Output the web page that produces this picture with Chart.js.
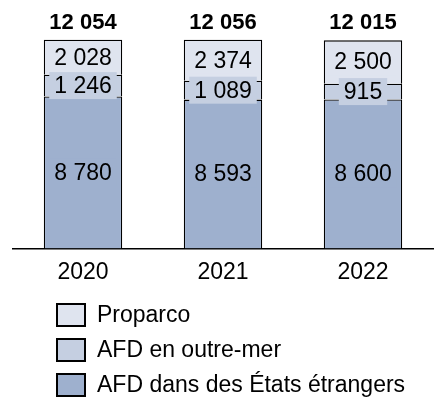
<!DOCTYPE html>
<html>
<head>
<meta charset="utf-8">
<script src="https://cdn.jsdelivr.net/npm/chart.js@4/dist/chart.umd.min.js"></script>
<style>
  html, body { margin: 0; padding: 0; background: #ffffff; }
  #wrap { width: 445px; height: 415px; position: relative; }
</style>
</head>
<body>
<div id="wrap"><canvas id="chart" width="445" height="415"></canvas></div>
<script>
const years = ['2020', '2021', '2022'];
const etrangers = [8780, 8593, 8600];
const outreMer = [1246, 1089, 915];
const proparco = [2028, 2374, 2500];
const totals = [12054, 12056, 12015];

const fontName = '"Liberation Sans", Arial, sans-serif';

function formatFr(value){
  return String(value).replace(/\B(?=(\d{3})+(?!\d))/g, ' ');
}

// segment labels with a small box behind, then the bold totals
const labelPlugin = {
  id: 'segmentLabels',
  afterDatasetsDraw: (chart) => {
    const {ctx} = chart;
    ctx.save();
    ctx.font = '23px ' + fontName;
    ctx.textAlign = 'center';
    ctx.textBaseline = 'middle';
    chart.data.datasets.forEach((dataset, i) => {
      const meta = chart.getDatasetMeta(i);
      meta.data.forEach((bar, j) => {
        const text = formatFr(dataset.data[j]);
        const cy = (bar.y + bar.base) / 2;
        const w = ctx.measureText(text).width + 10;
        ctx.fillStyle = dataset.backgroundColor;
        ctx.fillRect(bar.x - w / 2, cy - 13.5, w, 27);
        ctx.fillStyle = '#000000';
        ctx.fillText(text, bar.x, cy + 1);
      });
    });
    const topMeta = chart.getDatasetMeta(chart.data.datasets.length - 1);
    ctx.font = 'bold 22px ' + fontName;
    topMeta.data.forEach((bar, j) => {
      ctx.fillText(formatFr(totals[j]), bar.x, bar.y - 17);
    });
    ctx.restore();
  }
};

// vertical legend under the axis, one line per series
const legendPlugin = {
  id: 'columnLegend',
  afterDraw: (chart) => {
    const {ctx} = chart;
    const order = [2, 1, 0];
    ctx.save();
    ctx.font = '23px ' + fontName;
    ctx.textBaseline = 'middle';
    ctx.textAlign = 'left';
    order.forEach((idx, row) => {
      const ds = chart.data.datasets[idx];
      const cy = 315 + row * 35;
      ctx.fillStyle = ds.backgroundColor;
      ctx.fillRect(56, cy - 12, 30, 24);
      ctx.lineWidth = 2;
      ctx.strokeStyle = '#000000';
      ctx.strokeRect(57, cy - 11, 28, 22);
      ctx.fillStyle = '#000000';
      ctx.fillText(ds.label, 97, cy + 1);
    });
    ctx.restore();
  }
};

new Chart(document.getElementById('chart'), {
  type: 'bar',
  data: {
    labels: years,
    datasets: [
      {
        label: 'AFD dans des États étrangers',
        data: etrangers,
        backgroundColor: '#9eb0ce',
        borderColor: '#000000',
        borderWidth: 1.3,
      },
      {
        label: 'AFD en outre-mer',
        data: outreMer,
        backgroundColor: '#c5cfe1',
        borderColor: '#000000',
        borderWidth: 1.3,
      },
      {
        label: 'Proparco',
        data: proparco,
        backgroundColor: '#dfe4ef',
        borderColor: '#000000',
        borderWidth: 1.3,
      }
    ]
  },
  options: {
    responsive: false,
    animation: false,
    layout: {
      padding: {top: 6, left: 13, right: 12, bottom: 119}
    },
    datasets: {
      bar: {categoryPercentage: 1, barPercentage: 0.56}
    },
    scales: {
      x: {
        stacked: true,
        grid: {display: false, drawTicks: false},
        border: {display: true, color: '#000000', width: 1.5},
        ticks: {
          color: '#000000',
          padding: 10,
          font: {family: fontName, size: 23}
        }
      },
      y: {
        stacked: true,
        display: false,
        min: 0,
        max: 14000
      }
    },
    plugins: {
      legend: {display: false},
      tooltip: {enabled: false}
    }
  },
  plugins: [labelPlugin, legendPlugin]
});
</script>
</body>
</html>
